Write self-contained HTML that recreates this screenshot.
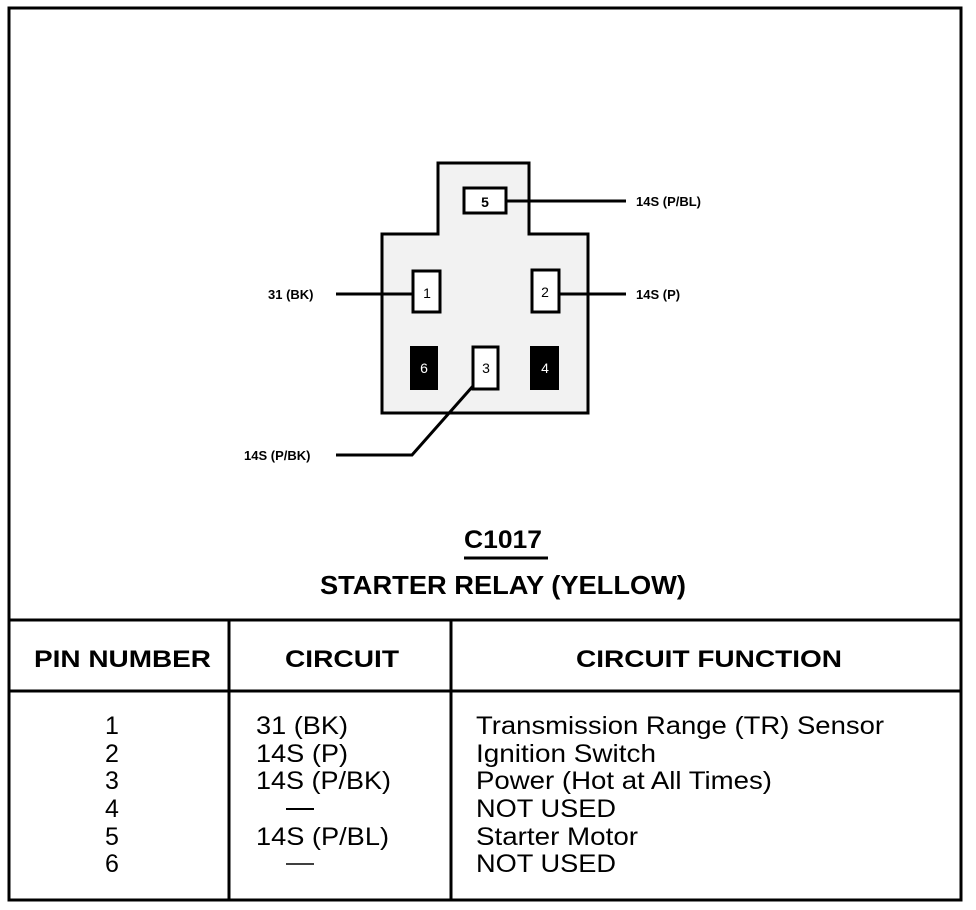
<!DOCTYPE html>
<html><head><meta charset="utf-8"><style>
html,body{margin:0;padding:0;background:#fff;}
svg{display:block;}
text{font-family:"Liberation Sans",sans-serif;fill:#000;}
</style></head><body>
<svg width="976" height="910" viewBox="0 0 976 910" xmlns="http://www.w3.org/2000/svg">
<rect x="0" y="0" width="976" height="910" fill="#fff"/>
<!-- outer frame -->
<rect x="9" y="8" width="952" height="892" fill="none" stroke="#000" stroke-width="3"/>
<!-- connector body -->
<path d="M438,163 L529,163 L529,234 L588,234 L588,413 L382,413 L382,234 L438,234 Z" fill="#f2f2f2" stroke="#000" stroke-width="3"/>
<!-- pins -->
<rect x="464" y="188" width="42" height="25" fill="#fff" stroke="#000" stroke-width="3"/>
<text x="485" y="207" font-size="14" font-weight="bold" text-anchor="middle">5</text>
<rect x="413" y="271" width="27" height="41" fill="#fff" stroke="#000" stroke-width="3"/>
<text x="427" y="298" font-size="14" text-anchor="middle">1</text>
<rect x="532" y="270" width="27" height="42" fill="#fff" stroke="#000" stroke-width="3"/>
<text x="545" y="297" font-size="14" text-anchor="middle">2</text>
<rect x="410" y="346" width="28" height="44" fill="#000"/>
<text x="424" y="373" font-size="14" text-anchor="middle" style="fill:#fff">6</text>
<rect x="473" y="347" width="25" height="42" fill="#fff" stroke="#000" stroke-width="3"/>
<text x="486" y="373" font-size="14" text-anchor="middle">3</text>
<rect x="530" y="346" width="29" height="44" fill="#000"/>
<text x="545" y="373" font-size="14" text-anchor="middle" style="fill:#fff">4</text>
<!-- wires -->
<g stroke="#000" stroke-width="3" fill="none">
<line x1="506" y1="201" x2="626" y2="201"/>
<line x1="336" y1="294" x2="413" y2="294"/>
<line x1="559" y1="294" x2="626" y2="294"/>
<polyline points="473,386 412,455 336,455"/>
</g>
<g font-size="13" font-weight="bold">
<text x="636" y="206">14S (P/BL)</text>
<text x="636" y="299">14S (P)</text>
<text x="268" y="299">31 (BK)</text>
<text x="244" y="460">14S (P/BK)</text>
</g>
<!-- title -->
<text x="503" y="548" font-size="25" font-weight="bold" text-anchor="middle" textLength="78" lengthAdjust="spacingAndGlyphs">C1017</text>
<line x1="464" y1="558" x2="548" y2="558" stroke="#000" stroke-width="3"/>
<text x="320" y="594" font-size="26" font-weight="bold" textLength="366" lengthAdjust="spacingAndGlyphs">STARTER RELAY (YELLOW)</text>
<!-- table -->
<g stroke="#000" stroke-width="3">
<line x1="9" y1="620" x2="961" y2="620"/>
<line x1="9" y1="691" x2="961" y2="691"/>
<line x1="229" y1="620" x2="229" y2="900"/>
<line x1="451" y1="620" x2="451" y2="900"/>
</g>
<g font-size="24" font-weight="bold">
<text x="34" y="667" textLength="177" lengthAdjust="spacingAndGlyphs">PIN NUMBER</text>
<text x="285" y="667" textLength="114" lengthAdjust="spacingAndGlyphs">CIRCUIT</text>
<text x="576" y="667" textLength="266" lengthAdjust="spacingAndGlyphs">CIRCUIT FUNCTION</text>
</g>
<g font-size="25">
<text x="112" y="734" text-anchor="middle">1</text>
<text x="112" y="762" text-anchor="middle">2</text>
<text x="112" y="789" text-anchor="middle">3</text>
<text x="112" y="817" text-anchor="middle">4</text>
<text x="112" y="845" text-anchor="middle">5</text>
<text x="112" y="872" text-anchor="middle">6</text>
<text x="256" y="734" textLength="92" lengthAdjust="spacingAndGlyphs">31 (BK)</text>
<text x="256" y="762" textLength="92" lengthAdjust="spacingAndGlyphs">14S (P)</text>
<text x="256" y="789" textLength="135" lengthAdjust="spacingAndGlyphs">14S (P/BK)</text>
<text x="256" y="845" textLength="133" lengthAdjust="spacingAndGlyphs">14S (P/BL)</text>
<text x="476" y="734" textLength="408" lengthAdjust="spacingAndGlyphs">Transmission Range (TR) Sensor</text>
<text x="476" y="762" textLength="180" lengthAdjust="spacingAndGlyphs">Ignition Switch</text>
<text x="476" y="789" textLength="296" lengthAdjust="spacingAndGlyphs">Power (Hot at All Times)</text>
<text x="476" y="817" textLength="140" lengthAdjust="spacingAndGlyphs">NOT USED</text>
<text x="476" y="845" textLength="162" lengthAdjust="spacingAndGlyphs">Starter Motor</text>
<text x="476" y="872" textLength="140" lengthAdjust="spacingAndGlyphs">NOT USED</text>
</g>
<line x1="286" y1="809" x2="314" y2="809" stroke="#000" stroke-width="2"/>
<line x1="286" y1="864" x2="314" y2="864" stroke="#000" stroke-width="1.5"/>
</svg>
</body></html>
